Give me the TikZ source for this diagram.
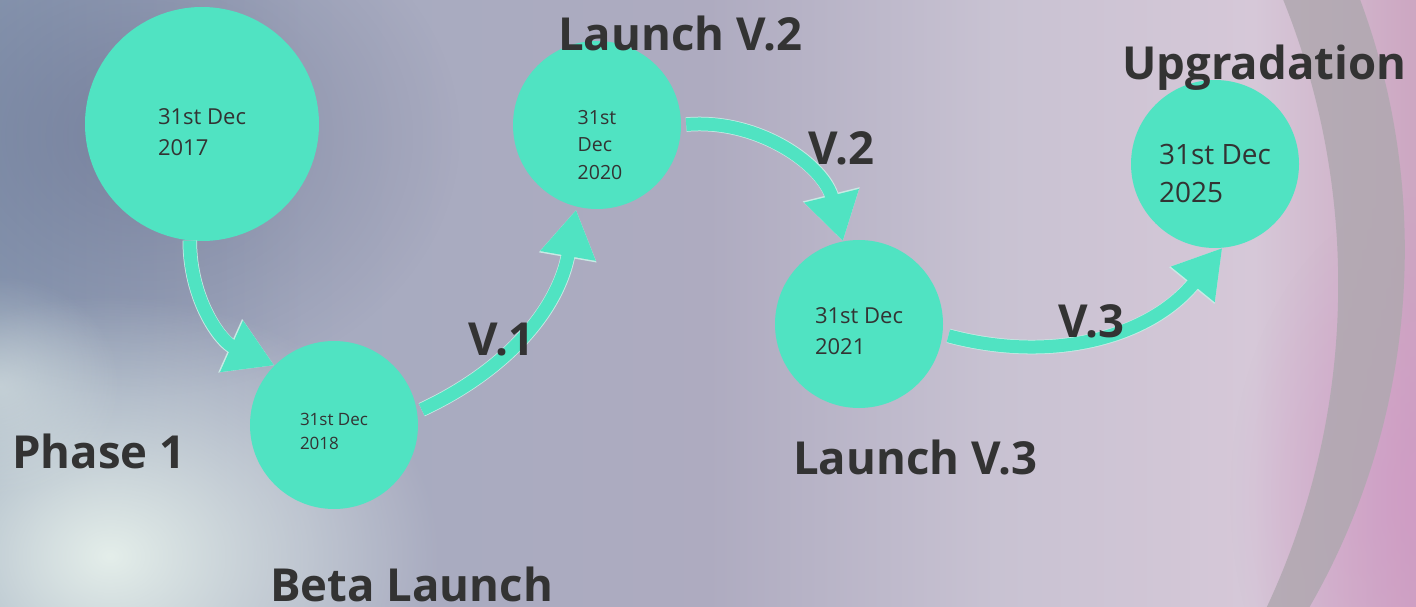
\documentclass[tikz,border=0pt]{standalone}
\usepackage{fontspec}
\setmainfont{Open Sans}
\usetikzlibrary{arrows.meta,fadings}
\definecolor{mint}{RGB}{80,227,194}
\definecolor{rim}{RGB}{200,234,228}
\definecolor{ink}{RGB}{51,51,51}
\definecolor{bgA}{RGB}{138,153,178}
\definecolor{bgB}{RGB}{166,171,192}
\definecolor{bgC}{RGB}{174,171,192}
\definecolor{bgD}{RGB}{200,194,210}
\definecolor{bgE}{RGB}{214,200,216}
\definecolor{bgF}{RGB}{204,164,192}
\definecolor{band}{RGB}{176,168,176}
\definecolor{haze}{RGB}{228,238,234}
\pgfdeclarehorizontalshading{backdrop}{100bp}{color(0bp)=(bgA); color(25bp)=(bgA);%
  color(36bp)=(bgB); color(50bp)=(bgC); color(60bp)=(bgD); color(69bp)=(bgE);%
  color(75bp)=(bgF); color(100bp)=(bgF)}
\tikzfading[name=glowfade, inner color=transparent!0, outer color=transparent!100]
\tikzset{%
  stop/.style  = {circle, fill=mint, inner sep=0pt},%
  date/.style  = {align=left, text=ink, inner sep=0pt},%
  title/.style = {font=\bfseries\fontsize{45.5}{50}\selectfont, text=ink,%
                  inner sep=0pt, anchor=base west},%
  flow/.style  = {draw=mint, line width=13pt,%
                  -{Triangle[length=47pt,width=53pt]},%
                  preaction={draw=rim, line width=14.5pt,%
                  -{Triangle[length=48.5pt,width=55pt]}}}%
}

\begin{document}
\begin{tikzpicture}[x=1pt,y=1pt]%
	\useasboundingbox (0,0) rectangle (1416,606);%
	\clip (0,0) rectangle (1416,606);%
	% backdrop
	\shade[shading=backdrop] (-10,-10) rectangle (1426,616);%
	\fill[bgA!85!blue!60!black, opacity=.35, path fading=glowfade] (140,470) ellipse (320 and 260);%
	\fill[haze, path fading=glowfade] (110,50) ellipse (330 and 260);%
	\fill[haze, opacity=.5, path fading=glowfade] (0,220) ellipse (120 and 110);%
	\fill[bgF!90!magenta, opacity=.6, path fading=glowfade] (1430,110) ellipse (200 and 300);%
	\begin{scope}%
		\clip (687.3,356.5) circle (717.5);%
		\fill[band, opacity=.85, even odd rule] (-10,-10) rectangle (1426,616)%
			(576.3,321.4) circle (761.9);%
	\end{scope}%
	% stops
	\node[stop, minimum size=234pt] (c1) at (202,482) {};%
	\node[stop, minimum size=168pt] (c2) at (334,181) {};%
	\node[stop, minimum size=168pt] (c3) at (597,481) {};%
	\node[stop, minimum size=168pt] (c4) at (859,282) {};%
	\node[stop, minimum size=168pt] (c5) at (1215,442) {};%
	\node[date, font=\fontsize{22}{31}\selectfont] (d1) at ([yshift=-8pt]c1) {31st Dec\\2017};%
	\node[date, font=\fontsize{17}{24}\selectfont] (d2) at ([yshift=-6pt]c2) {31st Dec\\2018};%
	\node[date, font=\fontsize{19.5}{27.5}\selectfont] (d3) at ([xshift=3pt,yshift=-20pt]c3) {31st\\Dec\\2020};%
	\node[date, font=\fontsize{22}{31}\selectfont] (d4) at ([yshift=-7pt]c4) {31st Dec\\2021};%
	\node[date, font=\fontsize{28}{38}\selectfont] (d5) at ([yshift=-10pt]c5) {31st Dec\\2025};%
	% connectors
	\draw[flow] (c1.264) to[out=-90,in=156] (c2.135);%
	\draw[flow, shorten <=5pt, shorten >=3pt] (c2.9) to[out=25,in=260] (c3.256);%
	\draw[flow, shorten <=5pt] (c3.0) to[out=5,in=104] (c4.101);%
	\draw[flow, shorten <=6pt] (c4.-7) to[out=-15,in=231] (c5.-85);%
	% labels
	\node[title] (phase) at (12,138) {Phase 1};%
	\node[title, text depth=0pt] (beta) at (270,5) {Beta Launch};%
	\node[title] (v1) at (468,251) {V.1};%
	\node[title] (l2) at (558,555) {Launch V.2};%
	\node[title] (v2) at (808,441) {V.2};%
	\node[title] (l3) at (793,132) {Launch V.3};%
	\node[title] (v3) at (1058,269) {V.3};%
	\node[title] (up) at (1122,526) {Upgradation};%
\end{tikzpicture}
\end{document}
